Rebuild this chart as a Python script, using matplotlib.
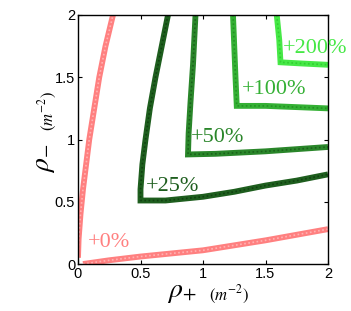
import matplotlib
matplotlib.use("Agg")
import matplotlib.pyplot as plt

plt.rcParams['mathtext.fontset'] = 'stix'
plt.rcParams['font.family'] = ['Liberation Sans', 'DejaVu Sans']

# Contour levels (upper branch: rho+ vs rho-, lower branch)
levels = ["+0%", "+25%", "+50%", "+100%", "+200%"]

up0_x = [0.0, 0.005, 0.02, 0.04, 0.065, 0.09, 0.13, 0.17, 0.22, 0.28]
up0_y = [0.05, 0.2, 0.4, 0.6, 0.8, 1.0, 1.25, 1.5, 1.75, 2.0]
lo0_x = [0.04, 0.25, 0.5, 1.0, 1.5, 2.0]
lo0_y = [0.0, 0.03, 0.06, 0.11, 0.19, 0.28]

l25_x = [0.72, 0.67, 0.62, 0.575, 0.54, 0.515, 0.5, 0.5, 0.7, 1.0, 1.25, 1.5, 1.75, 2.0]
l25_y = [2.0, 1.75, 1.5, 1.25, 1.0, 0.8, 0.6, 0.51, 0.51, 0.54, 0.58, 0.63, 0.67, 0.72]

l50_x = [0.94, 0.92, 0.9, 0.885, 0.88, 1.1, 1.5, 2.0]
l50_y = [2.0, 1.6, 1.3, 1.05, 0.88, 0.885, 0.905, 0.94]

l100_x = [1.24, 1.25, 1.26, 1.27, 1.5, 1.75, 2.0]
l100_y = [2.0, 1.75, 1.5, 1.27, 1.27, 1.26, 1.25]

l200_x = [1.59, 1.61, 1.62, 1.8, 2.0]
l200_y = [2.0, 1.8, 1.62, 1.61, 1.60]

colors = ["#ff8080", "#1e5e1e", "#2a862a", "#34b034", "#46e846"]
stripe = ["#ffc0c0", "#0d3a0d", "#175a17", "#1f8a1f", "#2cc82c"]

label_pos = [(0.08, 0.17), (0.54, 0.62), (0.9, 1.02), (1.31, 1.40), (1.64, 1.73)]

fig = plt.figure(figsize=(3.51, 3.11), dpi=100)
ax = fig.add_axes([78/351, 1-264/311, 250/351, 249/311])

curves = [[(up0_x, up0_y), (lo0_x, lo0_y)],
          [(l25_x, l25_y)], [(l50_x, l50_y)], [(l100_x, l100_y)], [(l200_x, l200_y)]]

for i, segs in enumerate(curves):
    for xs, ys in segs:
        ax.plot(xs, ys, color=colors[i], lw=4.2, solid_joinstyle='miter', solid_capstyle='butt')
        ax.plot(xs, ys, color=stripe[i], lw=1.2, linestyle=(0, (1, 1.5)), alpha=0.8)
    ax.text(label_pos[i][0], label_pos[i][1], levels[i], color=colors[i],
            fontsize=16, family=['Liberation Serif', 'DejaVu Serif'], ha='left', va='center',
            clip_on=False, zorder=5)

ax.set_xlim(0, 2)
ax.set_ylim(0, 2)
ax.set_xticks([0, 0.5, 1, 1.5, 2])
ax.set_yticks([0, 0.5, 1, 1.5, 2])
ax.set_xticklabels(["0", "0.5", "1", "1.5", "2"])
ax.set_yticklabels(["0", "0.5", "1", "1.5", "2"])
ax.tick_params(direction='in', top=True, right=True, length=3, labelsize=10.5, pad=2)
for s in ax.spines.values():
    s.set_linewidth(1.0)

fig.text(182/351, 1-292/311, r'$\rho_{+}$', fontsize=20, ha='center', va='center')
fig.text(229/351, 1-295/311, r'$(m^{-2})$', fontsize=12, ha='center', va='center')
fig.text(44/351, 1-158/311, r'$\rho_{-}$', fontsize=20, ha='center', va='center', rotation=90)
fig.text(48/351, 1-111/311, r'$(m^{-2})$', fontsize=12, ha='center', va='center', rotation=90)

fig.savefig("out.png", dpi=100)
